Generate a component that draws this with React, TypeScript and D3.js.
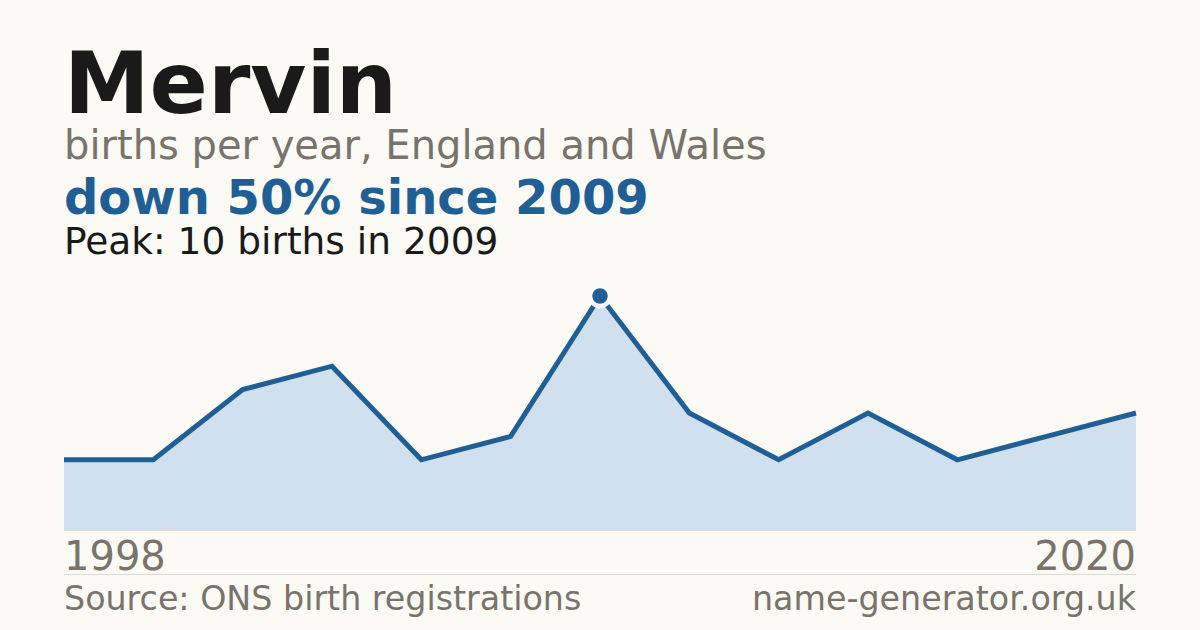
import React from "react";
import * as d3 from "d3";

const years: number[] = [1998, 2000, 2002, 2004, 2006, 2008, 2009, 2011, 2013, 2015, 2017, 2018, 2020];
const births: number[] = [3, 3, 6, 7, 3, 4, 10, 5, 3, 5, 3, 4, 5];
const endLabels: string[] = ["1998", "2020"];

const W = 1200;
const H = 630;
const BG = "#fbfaf5";
const BLUE = "#1f5f96";
const FILL = "#d0e0ef";
const GREY = "#78746c";
const DARK = "#1a1a1a";
const FONT = "'DejaVu Sans', sans-serif";

export default function App() {
  const left = 64;
  const right = 1136;
  const base = 530;
  const x = d3
    .scalePoint<number>()
    .domain(d3.range(years.length))
    .range([left, right]);
  const y = d3.scaleLinear().domain([0, 10]).range([base, 296]);

  const line = d3
    .line<number>()
    .x((_, i) => x(i) as number)
    .y((d) => y(d));
  const area = d3
    .area<number>()
    .x((_, i) => x(i) as number)
    .y0(base)
    .y1((d) => y(d));

  const peakIdx = births.indexOf(d3.max(births) as number);

  return (
    <div style={{ position: "fixed", left: 0, top: 0 }}>
      <svg width={W} height={H} viewBox={`0 0 ${W} ${H}`} style={{ display: "block" }}>
        <rect x={0} y={0} width={W} height={H} fill={BG} />
        <text x={64} y={113} fontFamily={FONT} fontWeight="bold" fontSize={86} fill={DARK}>
          Mervin
        </text>
        <text x={64} y={159} fontFamily={FONT} fontSize={40} fill={GREY}>
          births per year, England and Wales
        </text>
        <text x={64} y={214} fontFamily={FONT} fontWeight="bold" fontSize={48} fill={BLUE}>
          down 50% since 2009
        </text>
        <text x={64} y={254} fontFamily={FONT} fontSize={37.5} fill={DARK}>
          Peak: 10 births in 2009
        </text>

        <path d={area(births) as string} fill={FILL} />
        <line x1={left} x2={right} y1={base + 0.5} y2={base + 0.5} stroke="#e4ddd3" strokeWidth={1} />
        <path d={line(births) as string} fill="none" stroke={BLUE} strokeWidth={5} strokeLinejoin="miter" />
        <circle
          cx={x(peakIdx) as number}
          cy={y(births[peakIdx])}
          r={10}
          fill={BLUE}
          stroke={BG}
          strokeWidth={4.5}
        />

        <text x={left} y={570} fontFamily={FONT} fontSize={40} fill={GREY}>
          {endLabels[0]}
        </text>
        <text x={right} y={570} fontFamily={FONT} fontSize={40} fill={GREY} textAnchor="end">
          {endLabels[1]}
        </text>
        <line x1={left} x2={right} y1={574.5} y2={574.5} stroke="#dedad2" strokeWidth={1} />
        <text x={left} y={610} fontFamily={FONT} fontSize={33.3} fill={GREY}>
          Source: ONS birth registrations
        </text>
        <text x={right} y={610} fontFamily={FONT} fontSize={33.3} fill={GREY} textAnchor="end">
          name-generator.org.uk
        </text>
      </svg>
    </div>
  );
}
